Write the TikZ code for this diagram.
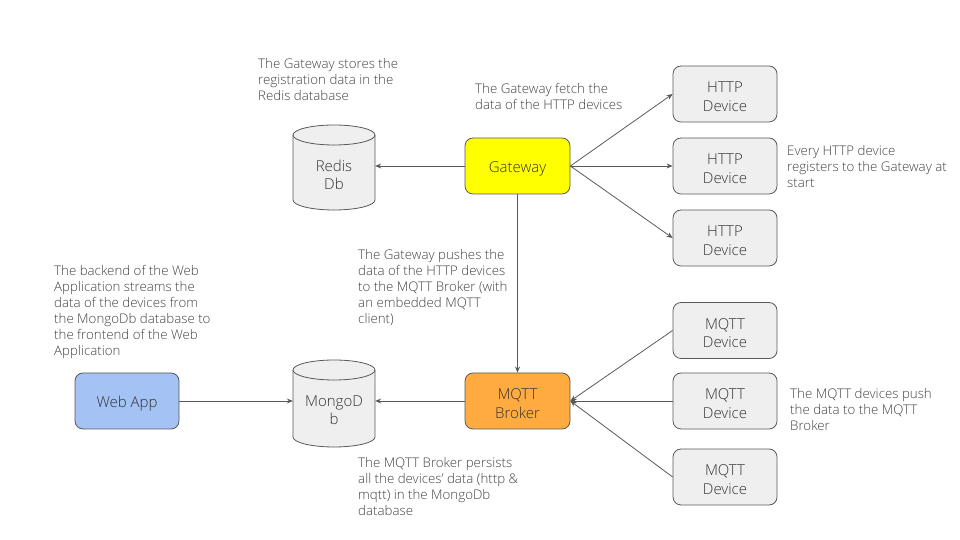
\documentclass[tikz,border=0pt]{standalone}
\usepackage{fontspec}
\setmainfont{Open Sans Light}
\usetikzlibrary{arrows.meta}
\definecolor{lineC}{HTML}{595959}
\definecolor{txtC}{HTML}{333333}
\definecolor{noteC}{HTML}{434343}
\definecolor{grayF}{HTML}{EFEFEF}
\definecolor{yellowF}{HTML}{FFFF00}
\definecolor{orangeF}{HTML}{FFAB40}
\definecolor{blueF}{HTML}{A4C2F4}
\newcommand\Lstrut{\rule{0pt}{16pt}}
\tikzset{
  box/.style={draw=lineC, line width=0.8pt, rounded corners=8pt, minimum width=104pt, minimum height=56pt,
    inner sep=0pt, align=center, text=txtC, font=\fontsize{15}{18.5}\selectfont},
  dev/.style={box, fill=grayF},
  dbtext/.style={inner sep=0pt, minimum width=82pt, align=center, text=txtC, font=\fontsize{15}{18.5}\selectfont},
  dbshape/.style={draw=lineC, line width=0.8pt, fill=grayF},
  note/.style={anchor=north west, inner sep=0pt, align=left, text=noteC, font=\fontsize{13.3}{16}\selectfont},
  conn/.style={draw=lineC, line width=0.8pt, -{Stealth[length=6pt,width=5pt]}}
}
\begin{document}
\begin{tikzpicture}[x=1pt,y=1pt]
\useasboundingbox (0,0) rectangle (960,540);
% cylinders
\draw[dbshape] (293,405) -- (293,340) arc[start angle=180,end angle=360,x radius=41,y radius=10] -- (375,405) arc[start angle=0,end angle=180,x radius=41,y radius=10] -- cycle;
\draw[draw=lineC, line width=0.8pt] (293,405) arc[start angle=180,end angle=360,x radius=41,y radius=10];
\draw[dbshape] (293,170) -- (293,103) arc[start angle=180,end angle=360,x radius=41,y radius=10] -- (375,170) arc[start angle=0,end angle=180,x radius=41,y radius=10] -- cycle;
\draw[draw=lineC, line width=0.8pt] (293,170) arc[start angle=180,end angle=360,x radius=41,y radius=10];
\node[dbtext] (redis) at (334,365) {Redis\\Db};
\node[dbtext] (mongo) at (334,130) {MongoD\\b};
% boxes
\node[box, fill=yellowF, minimum width=105pt] (gw) at (517.5,374) {\Lstrut Gateway};
\node[dev] (h1) at (725,446) {\Lstrut HTTP\\Device};
\node[dev] (h2) at (725,374) {\Lstrut HTTP\\Device};
\node[dev] (h3) at (725,302) {\Lstrut HTTP\\Device};
\node[box, fill=orangeF, minimum width=105pt] (broker) at (517.5,139) {\Lstrut MQTT\\Broker};
\node[dev] (m1) at (725,209.5) {\Lstrut MQTT\\Device};
\node[dev] (m2) at (725,139) {\Lstrut MQTT\\Device};
\node[dev] (m3) at (725,63) {\Lstrut MQTT\\Device};
\node[box, fill=blueF] (web) at (127,139) {\Lstrut Web App};
% connectors
\draw[conn] (gw.east) -- (h1.west);
\draw[conn] (gw.east) -- (h2.west);
\draw[conn] (gw.east) -- (h3.west);
\draw[conn] (gw.west) -- (gw.west -| redis.east);
\draw[conn] (gw.south) -- (broker.north);
\draw[conn] (broker.west) -- (broker.west -| mongo.east);
\draw[conn] (web.east) -- (web.east -| mongo.west);
\draw[conn] (m1.west) -- (broker.east);
\draw[conn] (m2.west) -- (broker.east);
\draw[conn] (m3.west) -- (broker.east);
% notes
\node[note] (n1) at (258,482) {The Gateway stores the\\registration data in the\\Redis database};
\node[note] (n2) at (475,457) {The Gateway fetch the\\data of the HTTP devices};
\node[note] (n3) at (787,395) {Every HTTP device\\registers to the Gateway at\\start};
\node[note] (n4) at (358,291) {The Gateway pushes the\\data of the HTTP devices\\to the MQTT Broker (with\\an embedded MQTT\\client)};
\node[note] (n5) at (54,275) {The backend of the Web\\Application streams the\\data of the devices from\\the MongoDb database to\\the frontend of the Web\\Application};
\node[note] (n6) at (358,83) {The MQTT Broker persists\\all the devices’ data (http \&\\mqtt) in the MongoDb\\database};
\node[note] (n7) at (790,152) {The MQTT devices push\\the data to the MQTT\\Broker};
\end{tikzpicture}
\end{document}
